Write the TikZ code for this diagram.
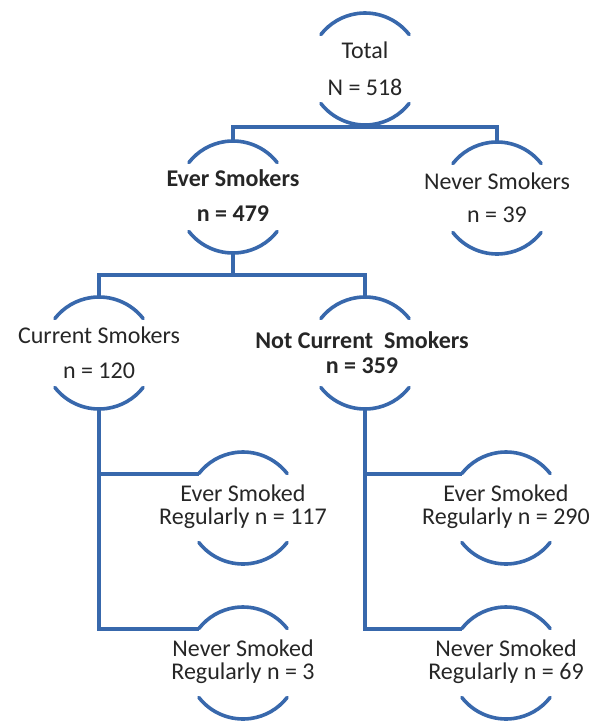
\documentclass[tikz,border=0pt]{standalone}
\usepackage{fontspec}
\setmainfont{Carlito}
\definecolor{lineblue}{RGB}{56,104,172}
\definecolor{txtgray}{RGB}{38,38,38}
\tikzset{
  ring/.style={circle, minimum size=112pt, inner sep=0pt, outer sep=0pt},
  lbl/.style={align=center, text=txtgray, font=\fontsize{24}{23}\selectfont, inner sep=0pt},
  conn/.style={draw=lineblue, line width=4pt},
  arcl/.style={draw=lineblue, line width=3.6pt, line cap=round}
}
\newcommand\ringarcs[1]{%
  \draw[arcl] ([shift={(38:56pt)}]#1.center) arc[start angle=38, end angle=142, radius=56pt];
  \draw[arcl] ([shift={(218:56pt)}]#1.center) arc[start angle=218, end angle=322, radius=56pt];
}
\begin{document}
\begin{tikzpicture}[x=1pt,y=1pt]
\useasboundingbox (0,0) rectangle (590,-721);
% ring nodes
\node[ring] (tot)  at (365,-69)  {};
\node[ring] (es)   at (233,-197) {};
\node[ring] (ns)   at (497,-198) {};
\node[ring] (cs)   at (99,-353)  {};
\node[ring] (nc)   at (365,-353) {};
\node[ring] (esr1) at (243,-508) {};
\node[ring] (nsr1) at (243,-663) {};
\node[ring] (esr2) at (506,-508) {};
\node[ring] (nsr2) at (506,-663) {};
% labels
\node[lbl] (totl) at (tot)  {Total\\[14pt]N = 518};
\node[lbl] (esl)  at ([yshift=1.5pt]es.center) {\bfseries Ever Smokers\\[12pt]\bfseries n = 479};
\node[lbl] (nsl)  at ([yshift=0pt]ns.center) {Never Smokers\\[10pt]n = 39};
\node[lbl] (csl)  at (cs) {Current Smokers\\[12pt]n = 120};
\node[lbl] (ncl)  at ([xshift=-3pt]nc.center) {\bfseries Not Current\ \ Smokers\\[2pt]\bfseries n = 359};
\node[lbl] (esr1l) at ([yshift=1.5pt]esr1.center) {Ever Smoked\\Regularly n = 117};
\node[lbl] (nsr1l) at ([yshift=1pt]nsr1.center) {Never Smoked\\Regularly n = 3};
\node[lbl] (esr2l) at ([yshift=1.5pt]esr2.center) {Ever Smoked\\Regularly n = 290};
\node[lbl] (nsr2l) at ([yshift=1pt]nsr2.center) {Never Smoked\\Regularly n = 69};
% arcs
\ringarcs{tot}
\ringarcs{es}
\ringarcs{ns}
\ringarcs{cs}
\ringarcs{nc}
\ringarcs{esr1}
\ringarcs{nsr1}
\ringarcs{esr2}
\ringarcs{nsr2}
% connectors
\coordinate (j1) at (365,-127);
\draw[conn] (tot.south) -- (j1);
\draw[conn] (es.north) -- (es.north |- j1) -- (ns.north |- j1) -- (ns.north);
\coordinate (j2) at (233,-275);
\draw[conn] (es.south) -- (j2);
\draw[conn] (cs.north) -- (cs.north |- j2) -- (nc.north |- j2) -- (nc.north);
\draw[conn] (cs.south) |- (nsr1.142);
\draw[conn] (cs.south |- esr1.142) -- (esr1.142);
\draw[conn] (nc.south) |- (nsr2.142);
\draw[conn] (nc.south |- esr2.142) -- (esr2.142);
\end{tikzpicture}
\end{document}
